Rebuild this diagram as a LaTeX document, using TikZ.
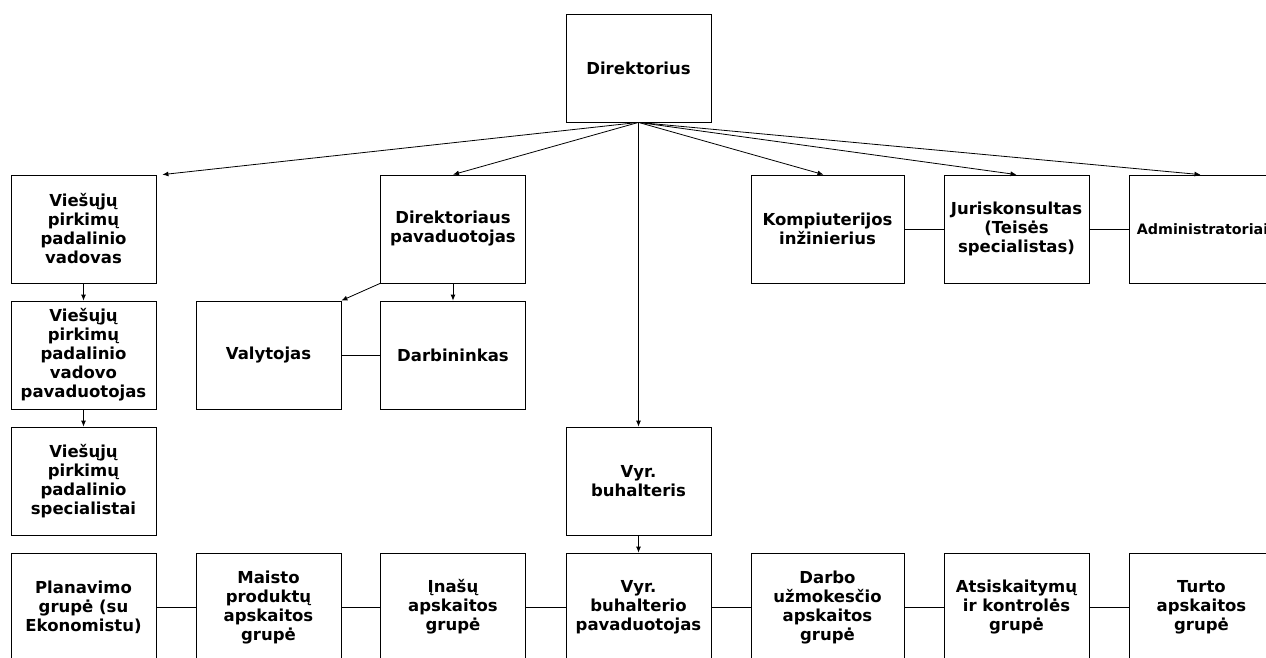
\documentclass[tikz,border=0pt]{standalone}
\usepackage{fontspec}
\setmainfont{DejaVu Sans}
\usepackage{tikz}
\usetikzlibrary{arrows.meta}
\tikzset{
    every node/.style={rectangle, draw, line width=0.8pt, minimum width=145pt,
    	minimum height=108pt, inner sep=0pt, align=center,
    	font=\fontsize{16.5}{19}\selectfont\bfseries}
}
\tikzset{
    every edge/.append style={line width=0.8pt}
}
\tikzset{
	>={Latex[length=6pt, width=5pt]}
}

\begin{document}
\begin{tikzpicture}[x=1pt, y=-1pt]
  \useasboundingbox (0, 0) rectangle (1266, 657);
  \clip (0, 0) rectangle (1266, 657);

  \node (dir) at (638.5, 68) {Direktorius};

  \node (vp) at (83.5, 229) {Viešųjų\\pirkimų\\padalinio\\vadovas};
  \node (dp) at (453, 229) {Direktoriaus\\pavaduotojas};
  \node (ki) [minimum width=153pt] at (827.5, 229) {Kompiuterijos\\inžinierius};
  \node (jur) at (1016.5, 229) {Juriskonsultas\\(Teisės\\specialistas)};
  \node (adm) [minimum width=147pt, font=\fontsize{14.3}{19}\selectfont\bfseries]
    at (1202.5, 229) {Administratoriai};

  \node (vpp) at (83.5, 355) {Viešųjų\\pirkimų\\padalinio\\vadovo\\pavaduotojas};
  \node (val) at (268.5, 355) {Valytojas};
  \node (darb) at (453, 355) {Darbininkas};

  \node (vps) at (83.5, 481) {Viešųjų\\pirkimų\\padalinio\\specialistai};
  \node (vb) at (638.5, 481) {Vyr.\\buhalteris};

  \node (plan) at (83.5, 607) {Planavimo\\grupė (su\\Ekonomistu)};
  \node (maist) at (268.5, 607) {Maisto\\produktų\\apskaitos\\grupė};
  \node (inas) at (453, 607) {Įnašų\\apskaitos\\grupė};
  \node (vbp) at (638.5, 607) {Vyr.\\buhalterio\\pavaduotojas};
  \node (darbo) [minimum width=153pt] at (827.5, 607) {Darbo\\užmokesčio\\apskaitos\\grupė};
  \node (ats) at (1016.5, 607) {Atsiskaitymų\\ir kontrolės\\grupė};
  \node (turt) at (1201.5, 607) {Turto\\apskaitos\\grupė};

  \draw (dir.south) edge [->] ([xshift=6pt]vp.north east);
  \draw (dir.south) edge [->] (dp.north);
  \draw (dir.south) edge [->] ([xshift=-4pt]ki.north);
  \draw (dir.south) edge [->] (jur.north);
  \draw (dir.south) edge [->] ([xshift=-2pt]adm.north);
  \draw (dir.south) edge [->] (vb.north);
  \draw (vp) edge [->] (vpp);
  \draw (vpp) edge [->] (vps);
  \draw (dp.south west) edge [->] (val.north east);
  \draw (dp) edge [->] (darb);
  \draw (vb) edge [->] (vbp);
  \draw (val) edge (darb);
  \draw (ki) edge (jur);
  \draw (jur) edge (adm);
  \draw (plan) edge (maist);
  \draw (maist) edge (inas);
  \draw (inas) edge (vbp);
  \draw (vbp) edge (darbo);
  \draw (darbo) edge (ats);
  \draw (ats) edge (turt);
\end{tikzpicture}
\end{document}
